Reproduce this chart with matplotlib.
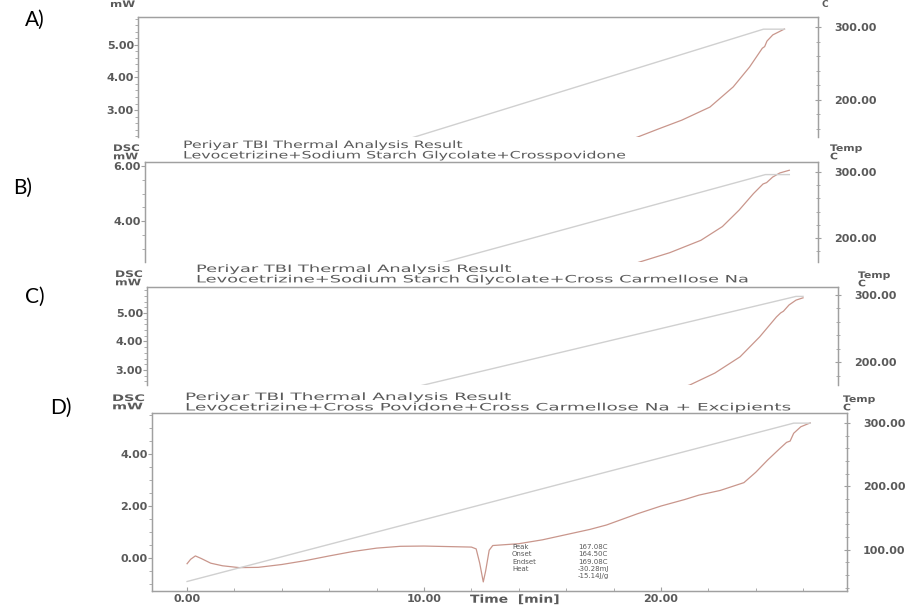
import matplotlib
matplotlib.use("Agg")
import matplotlib.pyplot as plt
from matplotlib.ticker import MultipleLocator, FixedLocator, FormatStrFormatter
from matplotlib.patheffects import AbstractPathEffect
from matplotlib.transforms import Affine2D

W, H = 910, 605

# ---------------- data ----------------
panel_labels = ["A)", "B)", "C)", "D)"]
title_line1 = "Periyar TBI Thermal Analysis Result"
title_line2 = ["",
               "Levocetrizine+Sodium Starch Glycolate+Crosspovidone",
               "Levocetrizine+Sodium Starch Glycolate+Cross Carmellose Na",
               "Levocetrizine+Cross Povidone+Cross Carmellose Na + Excipients"]

# Panel A
a_time = [17.5, 18.5, 19.6, 20.5, 21.5, 22.7, 23.7, 24.4, 24.95, 25.05, 25.15, 25.4, 25.9]
a_dsc = [1.60, 1.90, 2.17, 2.42, 2.69, 3.09, 3.71, 4.32, 4.90, 4.95, 5.12, 5.31, 5.49]
a_temp_time = [0.0, 25.0, 25.9]
a_temp = [50, 297, 297]

# Panel B
b_time = [17.5, 19.7, 21.0, 22.3, 23.2, 23.9, 24.5, 24.9, 25.05, 25.3, 25.6, 26.0]
b_dsc = [1.90, 2.50, 2.85, 3.30, 3.80, 4.40, 5.00, 5.35, 5.40, 5.60, 5.75, 5.85]
b_temp_time = [0.0, 25.0, 26.0]
b_temp = [50, 296, 296]

# Panel C
c_time = [20.0, 21.2, 22.1, 23.0, 23.7, 24.3, 24.45, 24.55, 24.75, 25.0, 25.25]
c_dsc = [2.10, 2.47, 2.89, 3.46, 4.16, 4.86, 5.00, 5.06, 5.28, 5.45, 5.53]
c_temp_time = [0.0, 25.0, 25.25]
c_temp = [50, 298, 298]

# Panel D
d_time = [0.0, 0.15, 0.35, 0.6, 1.0, 1.5, 2.2, 3.0, 4.0, 5.0, 6.0, 7.0, 8.0, 9.0, 10.0,
          11.0, 12.0, 12.2, 12.35, 12.5, 12.6, 12.75, 12.9, 14.0, 15.0, 16.0, 17.0, 17.7,
          19.0, 20.0, 21.0, 21.6, 22.5, 23.5, 24.0, 24.5, 25.0, 25.3, 25.45, 25.6, 25.9, 26.3]
d_dsc = [-0.22, -0.05, 0.08, -0.02, -0.20, -0.30, -0.37, -0.36, -0.25, -0.10, 0.08, 0.25,
         0.38, 0.45, 0.46, 0.44, 0.42, 0.35, -0.20, -0.92, -0.50, 0.30, 0.48, 0.55, 0.70,
         0.90, 1.10, 1.27, 1.70, 2.00, 2.25, 2.42, 2.60, 2.90, 3.30, 3.77, 4.20, 4.45, 4.50,
         4.80, 5.05, 5.20]
d_temp_time = [0.0, 25.6, 26.3]
d_temp = [50, 300, 300]

peak_labels = ["Peak", "Onset", "Endset", "Heat", ""]
peak_values = ["167.08C", "164.50C", "169.08C", "-30.28mJ", "-15.14J/g"]

times = [a_time, b_time, c_time, d_time]
dscs = [a_dsc, b_dsc, c_dsc, d_dsc]
temp_times = [a_temp_time, b_temp_time, c_temp_time, d_temp_time]
temps = [a_temp, b_temp, c_temp, d_temp]

dsc_major = [[3, 4, 5], [4, 6], [3, 4, 5], [0, 2, 4]]
dsc_minor = [0.2, 0.5, 0.2, 0.5]
temp_major = [[200, 300], [200, 300], [200, 300], [100, 200, 300]]
time_major = [0, 10, 20]

# ---------------- layout ----------------
boxes = [(138, 17, 818, 137), (145, 162, 818, 262), (147, 287, 838, 385), (152, 413, 847, 591)]
xlims = [(-1.85, 27.34), (-0.96, 27.2), (1.8, 26.5), (-1.48, 27.85)]
ylims = [(2.17, 5.86), (2.51, 6.15), (2.47, 5.91), (-1.27, 5.58)]
tlims = [(149, 313.7), (164, 315), (166, 312), (35, 316)]

SPINE = "#a0a0a0"
TXT = "#5a5a5a"
DSC_C = "#c9968c"
TEMP_C = "#d0d0d0"


class Stretch(AbstractPathEffect):
    """Draw text glyphs horizontally widened (like the wide printer font)."""

    def __init__(self, sx):
        super().__init__()
        self.sx = sx

    def draw_path(self, renderer, gc, tpath, affine, rgbFace=None):
        renderer.draw_path(gc, tpath, Affine2D().scale(self.sx, 1.0) + affine, rgbFace)


fig = plt.figure(figsize=(W / 100, H / 100), dpi=100)
fig.patch.set_facecolor("white")


def fx(x):
    return x / W


def fy(y):
    return 1 - y / H


for i in range(4):
    l, t, r, b = boxes[i]
    ax = fig.add_axes([fx(l), fy(b), (r - l) / W, (b - t) / H])
    ax.set_xlim(*xlims[i])
    ax.set_ylim(*ylims[i])
    ax.plot(times[i], dscs[i], color=DSC_C, lw=0.9, zorder=3)
    ax2 = ax.twinx()
    ax2.set_ylim(*tlims[i])
    ax2.plot(temp_times[i], temps[i], color=TEMP_C, lw=1.0, zorder=2)

    for a in (ax, ax2):
        for s in a.spines.values():
            s.set_color(SPINE)
            s.set_linewidth(0.9)
        if i < 3:
            a.spines["bottom"].set_visible(False)

    ax.yaxis.set_major_locator(FixedLocator(dsc_major[i]))
    ax.yaxis.set_minor_locator(MultipleLocator(dsc_minor[i]))
    ax.yaxis.set_major_formatter(FormatStrFormatter("%.2f"))
    ax2.yaxis.set_major_locator(FixedLocator(temp_major[i]))
    ax2.yaxis.set_minor_locator(MultipleLocator(20))
    ax2.yaxis.set_major_formatter(FormatStrFormatter("%.2f"))

    ax.tick_params(axis="y", which="major", direction="out", length=3, width=0.8,
                   color=SPINE, labelsize=8, labelcolor=TXT, pad=0)
    ax.tick_params(axis="y", which="minor", direction="out", length=2, width=0.6, color=SPINE)
    ax2.tick_params(axis="y", which="major", direction="inout", length=5, width=0.8,
                    color=SPINE, labelsize=8, labelcolor=TXT, pad=9)
    ax2.tick_params(axis="y", which="minor", direction="inout", length=3, width=0.6, color=SPINE)
    for lab in ax.get_yticklabels() + ax2.get_yticklabels():
        lab.set_fontweight("bold")

    if i < 3:
        ax.set_xticks([])
    else:
        ax.xaxis.set_major_locator(FixedLocator(time_major))
        ax.xaxis.set_minor_locator(MultipleLocator(2))
        ax.xaxis.set_major_formatter(FormatStrFormatter("%.2f"))
        ax.tick_params(axis="x", which="major", direction="in", length=3, width=0.8,
                       color=SPINE, labelsize=8, labelcolor=TXT, pad=2)
        ax.tick_params(axis="x", which="minor", direction="in", length=2, width=0.6, color=SPINE)
        for lab in ax.get_xticklabels():
            lab.set_fontweight("bold")
        # peak annotation
        fig.text(fx(512), fy(544), "\n".join(peak_labels[:4]), fontsize=5, color=TXT,
                 va="top", ha="left", linespacing=1.25)
        fig.text(fx(578), fy(544), "\n".join(peak_values), fontsize=5, color=TXT,
                 va="top", ha="left", linespacing=1.25)

# panel letters
label_pos = [(25, 20), (13, 188), (25, 297), (50, 408)]
for lab, (x, y) in zip(panel_labels, label_pos):
    fig.text(fx(x), fy(y), lab, fontsize=15, family="Lato", color="black", va="center", ha="left")

# titles (two lines in one text)
title_pos = [None, (183, 140), (196, 264), (185, 392)]
title_stretch = [None, 1.56, 1.76, 1.82]
for i in range(1, 4):
    x, y = title_pos[i]
    fig.text(fx(x), fy(y), title_line1 + "\n" + title_line2[i], fontsize=7.3, color=TXT,
             va="top", ha="left", linespacing=1.05, path_effects=[Stretch(title_stretch[i])])

# DSC / mW labels
dsc_lab = [(113, 144, 1.3), (115, 270, 1.35), (112, 394, 1.6)]
for x, y, s in dsc_lab:
    fig.text(fx(x), fy(y), "DSC\nmW", fontsize=6.5, color=TXT, fontweight="bold", va="top",
             ha="left", linespacing=0.9, path_effects=[Stretch(s)])
fig.text(fx(110), fy(0), "mW", fontsize=6.5, color=TXT, fontweight="bold", va="top", ha="left",
         path_effects=[Stretch(1.3)])

# Temp / C labels
temp_lab = [(830, 144), (858, 271), (843, 395)]
for x, y in temp_lab:
    fig.text(fx(x), fy(y), "Temp\nC", fontsize=6.5, color=TXT, fontweight="bold", va="top",
             ha="left", linespacing=0.9, path_effects=[Stretch(1.2)])
fig.text(fx(821), fy(0), "C", fontsize=6.5, color=TXT, fontweight="bold", va="top", ha="left")

# x-axis label (cut off at the bottom in the reference)
fig.text(fx(470), fy(605), "Time  [min]", fontsize=8, color=TXT, fontweight="bold",
         va="bottom", ha="left", path_effects=[Stretch(1.25)])

fig.savefig("out.png", dpi=100, facecolor="white")
